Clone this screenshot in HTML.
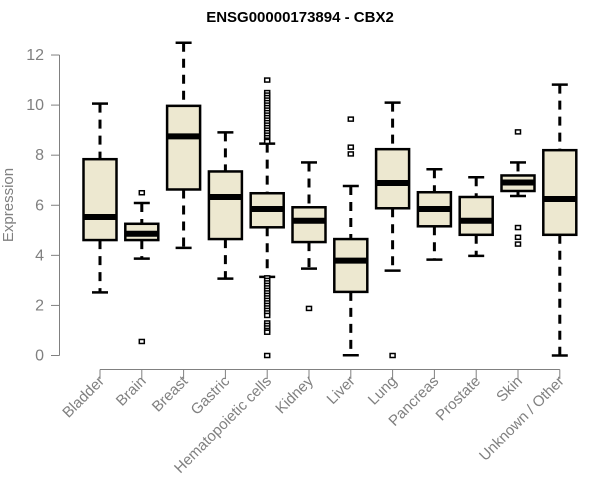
<!DOCTYPE html>
<html><head><meta charset="utf-8"><style>
html,body{margin:0;padding:0;background:#fff;}
svg{display:block;font-family:"Liberation Sans",Arial,sans-serif;}
</style></head><body>
<svg id="chart" width="600" height="500" viewBox="0 0 600 500">
<text x="300" y="22" text-anchor="middle" font-weight="bold" font-size="15" fill="#000">ENSG00000173894 - CBX2</text>
<text transform="translate(13,205) rotate(-90)" text-anchor="middle" font-size="15" fill="#808080">Expression</text>
<g id="yaxis"></g>
<g id="xaxis"></g>
<g id="boxes"></g>
</svg>
<script>
const categories=["Bladder","Brain","Breast","Gastric","Hematopoietic cells","Kidney","Liver","Lung","Pancreas","Prostate","Skin","Unknown / Other"];
const whiskerLow=[2.52,3.87,4.30,3.07,3.14,3.47,0.01,3.39,3.83,3.98,6.37,0.0];
const q1=[4.61,4.61,6.63,4.65,5.12,4.53,2.54,5.88,5.16,4.82,6.57,4.82];
const medians=[5.53,4.86,8.75,6.33,5.85,5.38,3.79,6.89,5.85,5.38,6.91,6.25];
const q3=[7.84,5.26,9.97,7.35,6.48,5.92,4.65,8.24,6.52,6.33,7.19,8.2];
const whiskerHigh=[10.06,6.09,12.49,8.91,8.46,7.71,6.77,10.1,7.44,7.12,7.71,10.82];
const outliers=[[],[6.5,0.56],[],[],
 [11.0,10.5,10.4,10.3,10.2,10.1,10.0,9.9,9.8,9.7,9.6,9.5,9.4,9.3,9.2,9.1,9.0,8.9,8.8,8.7,8.6,8.55,3.1,3.0,2.9,2.8,2.7,2.6,2.5,2.4,2.3,2.2,2.1,2.0,1.9,1.8,1.7,1.6,1.3,1.2,1.1,1.0,0.93,0.0],
 [1.88],[9.44,8.32,8.05],[0.0],[],[],[8.93,5.11,4.72,4.45],[]];
const yTicks=[0,2,4,6,8,10,12];
const NS="http://www.w3.org/2000/svg";
const y=v=>355.5-v*25.04;
const x=i=>100+i*41.8;
function mk(tag,attrs,parent){const e=document.createElementNS(NS,tag);for(const k in attrs)e.setAttribute(k,attrs[k]);parent.appendChild(e);return e;}
const ya=document.getElementById('yaxis'),xa=document.getElementById('xaxis'),bx=document.getElementById('boxes');
mk('line',{x1:59.5,x2:59.5,y1:y(0),y2:y(12),stroke:'#808080','stroke-width':1},ya);
yTicks.forEach(t=>{
 mk('line',{x1:51,x2:59.5,y1:y(t),y2:y(t),stroke:'#808080'},ya);
 const tx=mk('text',{x:44,y:y(t)+5,'text-anchor':'end','font-size':16,fill:'#808080'},ya);
 
 
 tx.textContent=t;
});
mk('line',{x1:x(0),x2:x(categories.length-1),y1:369.5,y2:369.5,stroke:'#808080'},xa);
categories.forEach((c,i)=>{
 mk('line',{x1:x(i),x2:x(i),y1:369.5,y2:379,stroke:'#808080'},xa);
 const tx=mk('text',{transform:`translate(${x(i)+5},382) rotate(-45)`,'text-anchor':'end','font-size':15,fill:'#808080'},xa);
 
 
 tx.textContent=c;
});
categories.forEach((c,i)=>{
 const g=mk('g',{},bx);
 
 
 const cx=x(i),hw=16.5;
 mk('line',{x1:cx,x2:cx,y1:y(whiskerHigh[i]),y2:y(q3[i]),stroke:'#000','stroke-width':3,'stroke-dasharray':'9,7'},g);
 mk('line',{x1:cx,x2:cx,y1:y(q1[i]),y2:y(whiskerLow[i]),stroke:'#000','stroke-width':3,'stroke-dasharray':'9,7'},g);
 mk('line',{x1:cx-8,x2:cx+8,y1:y(whiskerHigh[i]),y2:y(whiskerHigh[i]),stroke:'#000','stroke-width':2.5},g);
 mk('line',{x1:cx-8,x2:cx+8,y1:y(whiskerLow[i]),y2:y(whiskerLow[i]),stroke:'#000','stroke-width':2.5},g);
 mk('rect',{x:cx-hw,y:y(q3[i]),width:hw*2,height:y(q1[i])-y(q3[i]),fill:'#ede8d0',stroke:'#000','stroke-width':2.5},g);
 mk('line',{x1:cx-hw,x2:cx+hw,y1:y(medians[i]),y2:y(medians[i]),stroke:'#000','stroke-width':6},g);
 outliers[i].forEach(v=>{
  const o=mk('rect',{x:cx-2.5,y:y(v)-2,width:5,height:4,fill:'#fff',stroke:'#000','stroke-width':1.5},g);
  
  
 });
});
</script>
</body></html>
